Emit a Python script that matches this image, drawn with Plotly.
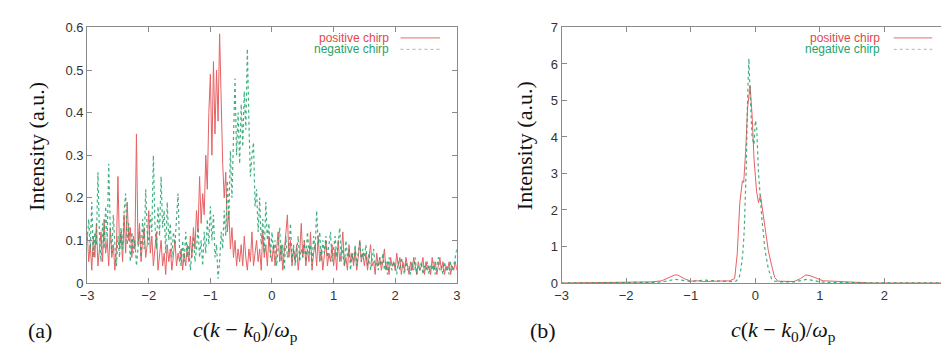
import plotly.graph_objects as go

# ---------------- Panel (a) data: x from -3 to 3, step 0.025 ----------------
x_a = [round(-3 + 0.025 * i, 3) for i in range(241)]

pos_a = [
    0.12, 0.05, 0.09, 0.03, 0.11, 0.06, 0.14, 0.04, 0.08, 0.12, 0.05, 0.15, 0.07, 0.10, 0.04, 0.13, 0.06, 0.09, 0.03, 0.08,
    0.25, 0.08, 0.12, 0.05, 0.16, 0.07, 0.19, 0.10, 0.13, 0.06, 0.11, 0.08, 0.35, 0.09, 0.14, 0.05, 0.10, 0.13, 0.06, 0.09,
    0.17, 0.07, 0.11, 0.04, 0.08, 0.12, 0.03, 0.06, 0.10, 0.04, 0.07, 0.02, 0.09, 0.05, 0.08, 0.03, 0.06, 0.10, 0.04, 0.07,
    0.05, 0.08, 0.03, 0.07, 0.04, 0.09, 0.05, 0.11, 0.06, 0.13, 0.08, 0.17, 0.12, 0.25, 0.14, 0.21, 0.16, 0.30, 0.22, 0.40,
    0.49, 0.30, 0.52, 0.35, 0.50, 0.38, 0.585, 0.40, 0.28, 0.20, 0.26, 0.12, 0.17, 0.08, 0.13, 0.06, 0.10, 0.04, 0.08, 0.05,
    0.09, 0.04, 0.11, 0.06, 0.03, 0.08, 0.05, 0.12, 0.04, 0.07, 0.10, 0.05, 0.08, 0.03, 0.12, 0.06, 0.09, 0.04, 0.11, 0.07,
    0.05, 0.09, 0.04, 0.08, 0.12, 0.05, 0.09, 0.03, 0.07, 0.11, 0.16, 0.06, 0.10, 0.04, 0.08, 0.05, 0.09, 0.03, 0.07, 0.14,
    0.06, 0.10, 0.04, 0.08, 0.05, 0.12, 0.03, 0.07, 0.09, 0.04, 0.11, 0.05, 0.08, 0.03, 0.06, 0.10, 0.04, 0.07, 0.05, 0.09,
    0.04, 0.08, 0.03, 0.10, 0.05, 0.07, 0.12, 0.04, 0.06, 0.03, 0.09, 0.05, 0.07, 0.04, 0.08, 0.03, 0.06, 0.10, 0.05, 0.07,
    0.04, 0.07, 0.03, 0.06, 0.09, 0.04, 0.05, 0.02, 0.07, 0.04, 0.06, 0.03, 0.05, 0.08, 0.03, 0.05, 0.02, 0.06, 0.04, 0.05,
    0.03, 0.07, 0.04, 0.06, 0.02, 0.05, 0.03, 0.06, 0.04, 0.02, 0.05, 0.03, 0.06, 0.04, 0.02, 0.05, 0.03, 0.04, 0.06, 0.02,
    0.05, 0.03, 0.04, 0.02, 0.06, 0.03, 0.05, 0.02, 0.04, 0.06, 0.03, 0.05, 0.02, 0.04, 0.03, 0.05, 0.02, 0.04, 0.03, 0.05, 0.03,
]

neg_a = [
    0.10, 0.15, 0.08, 0.19, 0.06, 0.12, 0.09, 0.26, 0.11, 0.05, 0.14, 0.08, 0.18, 0.10, 0.28, 0.13, 0.07, 0.16, 0.09, 0.04,
    0.11, 0.06, 0.13, 0.08, 0.17, 0.21, 0.09, 0.14, 0.05, 0.12, 0.07, 0.10, 0.04, 0.09, 0.12, 0.06, 0.15, 0.08, 0.22, 0.12,
    0.09, 0.16, 0.12, 0.30, 0.14, 0.08, 0.18, 0.11, 0.25, 0.13, 0.17, 0.07, 0.19, 0.10, 0.14, 0.06, 0.12, 0.09, 0.15, 0.21,
    0.08, 0.04, 0.10, 0.05, 0.12, 0.06, 0.09, 0.03, 0.07, 0.11, 0.05, 0.08, 0.13, 0.06, 0.10, 0.04, 0.12, 0.07, 0.15, 0.09,
    0.18, 0.10, 0.16, 0.06, 0.09, 0.01, 0.05, 0.12, 0.08, 0.17, 0.11, 0.24, 0.15, 0.31, 0.20, 0.38, 0.48, 0.30, 0.40, 0.28,
    0.42, 0.32, 0.45, 0.36, 0.55, 0.38, 0.25, 0.30, 0.33, 0.18, 0.22, 0.12, 0.20, 0.09, 0.15, 0.07, 0.19, 0.10, 0.14, 0.06,
    0.12, 0.07, 0.10, 0.04, 0.08, 0.13, 0.05, 0.09, 0.03, 0.11, 0.06, 0.08, 0.14, 0.05, 0.09, 0.04, 0.07, 0.11, 0.05, 0.08,
    0.06, 0.10, 0.05, 0.12, 0.07, 0.09, 0.04, 0.11, 0.08, 0.17, 0.09, 0.12, 0.05, 0.10, 0.07, 0.11, 0.06, 0.09, 0.12, 0.05,
    0.08, 0.11, 0.06, 0.09, 0.13, 0.05, 0.08, 0.04, 0.10, 0.06, 0.08, 0.03, 0.07, 0.05, 0.09, 0.04, 0.07, 0.10, 0.05, 0.08,
    0.06, 0.09, 0.04, 0.07, 0.03, 0.06, 0.08, 0.04, 0.05, 0.03, 0.06, 0.04, 0.07, 0.03, 0.05, 0.02, 0.06, 0.04, 0.03, 0.05,
    0.04, 0.02, 0.05, 0.03, 0.06, 0.04, 0.02, 0.05, 0.03, 0.04, 0.02, 0.05, 0.03, 0.06, 0.02, 0.04, 0.03, 0.05, 0.02, 0.04,
    0.03, 0.05, 0.02, 0.04, 0.03, 0.05, 0.02, 0.04, 0.06, 0.03, 0.04, 0.02, 0.05, 0.03, 0.04, 0.02, 0.05, 0.03, 0.04, 0.06, 0.08,
]

# ---------------- Panel (b) data ----------------
x_b_pos = [-3.0, -2.0, -1.6, -1.45, -1.35, -1.25, -1.2, -1.1, -1.0, -0.9, -0.8, -0.6, -0.4, -0.32,
           -0.28, -0.24, -0.2, -0.18, -0.15, -0.12, -0.08, -0.05, -0.02, 0.02, 0.05, 0.08, 0.12,
           0.16, 0.2, 0.25, 0.3, 0.35, 0.45, 0.6, 0.7, 0.78, 0.85, 0.95, 1.05, 1.2, 1.4, 1.6, 1.8, 3.0]
pos_b = [0.0, 0.02, 0.03, 0.06, 0.14, 0.22, 0.22, 0.12, 0.05, 0.06, 0.04, 0.04, 0.06, 0.12,
         0.8, 2.2, 2.8, 2.75, 3.6, 4.8, 5.4, 4.6, 3.4, 2.5, 2.2, 2.4, 1.9,
         1.3, 0.9, 0.5, 0.15, 0.05, 0.04, 0.04, 0.12, 0.22, 0.2, 0.12, 0.06, 0.05, 0.03, 0.02, 0.0, 0.0]

x_b_neg = [-3.0, -2.0, -1.5, -1.35, -1.25, -1.15, -1.0, -0.8, -0.6, -0.4, -0.3, -0.25, -0.22, -0.19,
           -0.17, -0.14, -0.12, -0.10, -0.08, -0.05, -0.02, 0.0, 0.02, 0.05, 0.1, 0.15, 0.2, 0.25,
           0.3, 0.4, 0.6, 0.7, 0.8, 0.9, 1.0, 1.2, 3.0]
neg_b = [0.0, 0.01, 0.02, 0.06, 0.1, 0.08, 0.04, 0.08, 0.05, 0.04, 0.05, 0.15, 0.4, 0.9,
         1.5, 3.2, 5.0, 6.15, 5.2, 4.0, 3.8, 4.45, 4.3, 3.0, 1.8, 0.9, 0.4, 0.12,
         0.05, 0.03, 0.03, 0.07, 0.1, 0.07, 0.03, 0.01, 0.0]

ticks_x = [-3, -2, -1, 0, 1, 2, 3]
ticks_ya = [0, 0.1, 0.2, 0.3, 0.4, 0.5, 0.6]
ticks_yb = [0, 1, 2, 3, 4, 5, 6, 7]
series_names = ["positive chirp", "negative chirp"]

RED = "#e4474a"
GREEN = "#1fa36b"

W, H = 949, 350
def px(v): return v / W
def py(v): return 1 - v / H

fig = go.Figure()
fig.add_trace(go.Scatter(x=x_a, y=pos_a, mode="lines", line=dict(color=RED, width=1),
                         opacity=0.85, xaxis="x", yaxis="y", showlegend=False))
fig.add_trace(go.Scatter(x=x_a, y=neg_a, mode="lines", line=dict(color=GREEN, width=1.2, dash="dot"),
                         opacity=0.85, xaxis="x", yaxis="y", showlegend=False))
fig.add_trace(go.Scatter(x=x_b_pos, y=pos_b, mode="lines", line=dict(color=RED, width=1),
                         opacity=0.85, xaxis="x2", yaxis="y2", showlegend=False))
fig.add_trace(go.Scatter(x=x_b_neg, y=neg_b, mode="lines", line=dict(color=GREEN, width=1.2, dash="dot"),
                         opacity=0.85, xaxis="x2", yaxis="y2", showlegend=False))

axis_common = dict(showgrid=False, zeroline=False, showline=True, linecolor="#8a8a8a", linewidth=1,
                   mirror="ticks", ticks="inside", ticklen=5, tickcolor="#8a8a8a",
                   tickfont=dict(family="Liberation Sans, Arial, sans-serif", size=13, color="#333333"))
ydom = [py(280), py(13)]
fig.update_layout(
    width=W, height=H, margin=dict(l=0, r=0, t=0, b=0),
    paper_bgcolor="white", plot_bgcolor="white",
    xaxis=dict(domain=[px(73), px(447)], range=[-3, 3], tickvals=ticks_x, anchor="y", **axis_common),
    yaxis=dict(domain=ydom, range=[0, 0.6], tickvals=ticks_ya, anchor="x", **axis_common),
    xaxis2=dict(domain=[px(553), px(945)], range=[-3, 3], tickvals=ticks_x, anchor="y2", **axis_common),
    yaxis2=dict(domain=ydom, range=[0, 7], tickvals=ticks_yb, anchor="x2", **axis_common),
    showlegend=False,
)

serif = "Liberation Serif, Times New Roman, serif"
xtitle = "<i>c</i>(<i>k</i> − <i>k</i><sub>0</sub>)/<i>ω</i><sub>p</sub>"
ann = []
for cx in [233, 778]:
    ann.append(dict(x=px(cx), y=py(330), xref="paper", yref="paper", text=xtitle, showarrow=False,
                    xanchor="center", yanchor="middle",
                    font=dict(family=serif, size=22, color="#111111")))
for cx, lab in [(25, "(a)"), (534, "(b)")]:
    ann.append(dict(x=px(cx), y=py(330), xref="paper", yref="paper", text=lab, showarrow=False,
                    xanchor="center", yanchor="middle",
                    font=dict(family=serif, size=22, color="#111111")))
for cx in [21, 515]:
    ann.append(dict(x=px(cx), y=py(137), xref="paper", yref="paper", text="Intensity (a.u.)",
                    textangle=-90, showarrow=False, xanchor="center", yanchor="middle",
                    font=dict(family=serif, size=22, color="#111111")))

shapes = []
# legends (text right-aligned, line sample to the right)
for text_right, l0, l1 in [(380, 390, 430), (877, 889, 928)]:
    for j, (name, col, dash) in enumerate([(series_names[0], RED, "solid"), (series_names[1], GREEN, "dot")]):
        yy = 24 + 12 * j
        ann.append(dict(x=px(text_right), y=py(yy), xref="paper", yref="paper", text=name,
                        showarrow=False, xanchor="right", yanchor="middle",
                        font=dict(family="Liberation Sans, Arial, sans-serif", size=12, color=col)))
        shapes.append(dict(type="line", xref="paper", yref="paper", x0=px(l0), x1=px(l1),
                           y0=py(yy), y1=py(yy),
                           line=dict(color="#ee8a88" if j == 0 else "#b9c9bf", width=1.2, dash=dash)))

fig.update_layout(annotations=ann, shapes=shapes)
fig.write_html("out.html")
